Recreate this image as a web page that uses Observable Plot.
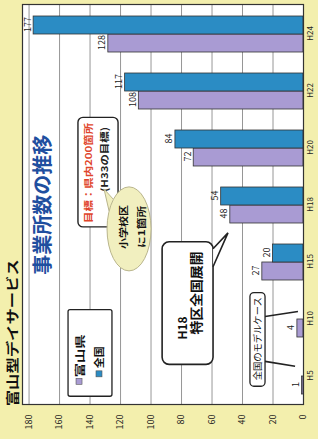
<!DOCTYPE html>
<html><head><meta charset="utf-8">
<script src="https://cdn.jsdelivr.net/npm/d3@7"></script>
<script src="https://cdn.jsdelivr.net/npm/@observablehq/plot@0.6"></script>
<style>
html,body{margin:0;padding:0;background:#f3efad;}
#wrap{position:relative;width:318px;height:439px;overflow:hidden;background:#f3efad;}
#wrap svg{position:absolute;left:0;top:0;transform-origin:0 0;transform:translate(0px,439px) rotate(-90deg);}
</style></head><body><div id="wrap"></div>
<script>
// ---- data ----
const categories = ["H5","H10","H15","H18","H20","H22","H24"];
const seriesNames = ["富山県","全国"];
const toyama  = [1, 4, 27, 48, 72, 108, 128];      // purple
const zenkoku = [null, null, 20, 54, 84, 117, 177]; // blue
const yTicks = [0,20,40,60,80,100,120,140,160,180];
const colors = ["#a99bd3", "#2b8cc4"];
const FONT = "'Noto Sans CJK JP','Noto Sans',sans-serif";

const rows = [];
categories.forEach((c, i) => {
  if (toyama[i] != null) rows.push({cat: c, series: seriesNames[0], value: toyama[i]});
  if (zenkoku[i] != null) rows.push({cat: c, series: seriesNames[1], value: zenkoku[i]});
});
const rowsP = rows.filter(d => d.series === seriesNames[0]);
const rowsB = rows.filter(d => d.series === seriesNames[1]);
const half = 18;

const plot = Plot.plot({
  width: 439, height: 318,
  marginTop: 22, marginBottom: 15, marginLeft: 34, marginRight: 5,
  style: {background: "transparent", maxWidth: "none", overflow: "visible", fontFamily: FONT, fontSize: "9px", color: "#222"},
  x: {domain: categories, paddingInner: 0.37, paddingOuter: 0.18},
  y: {domain: [0, 184.3]},
  marks: [
    Plot.frame({fill: "white", stroke: "none"}),
    Plot.ruleY(yTicks, {stroke: "#8a8a8a", strokeWidth: 0.9}),
    Plot.barY(rowsP, {x: "cat", y: "value", fill: colors[0], stroke: "#333", strokeWidth: 0.8, insetRight: half}),
    Plot.barY(rowsB, {x: "cat", y: "value", fill: colors[1], stroke: "#333", strokeWidth: 0.8, insetLeft: half}),
    Plot.text(rowsP, {x: "cat", y: "value", text: d => String(d.value), dx: -9, dy: -3, lineAnchor: "bottom", fontSize: 9, fill: "#222"}),
    Plot.text(rowsB, {x: "cat", y: "value", text: d => String(d.value), dx: 9, dy: -3, lineAnchor: "bottom", fontSize: 9, fill: "#222"}),
    Plot.frame({stroke: "#333", strokeWidth: 1.2}),
    Plot.axisX({tickSize: 0, tickPadding: 4, fontSize: 8, label: null}),
    Plot.axisY({ticks: yTicks, tickSize: 0, tickPadding: 10, fontSize: 9, label: null})
  ]
});
document.getElementById("wrap").appendChild(plot);

// ---- annotations, positioned through the plot's scales ----
const xs = plot.scale("x"), ys = plot.scale("y");
const X = i => xs.apply(categories[0]) + xs.bandwidth / 2 + i * xs.step;
const Y = v => ys.apply(v);
const svg = d3.select(plot);
const ann = svg.append("g").attr("font-family", FONT);

function txt(i, v, s, o) {
  const t = ann.append("text").attr("x", X(i)).attr("y", Y(v))
    .attr("dominant-baseline", "central")
    .attr("font-size", o.size).attr("font-weight", o.bold ? "bold" : "normal")
    .attr("fill", o.fill || "#111").attr("text-anchor", o.anchor || "start").text(s);
  if (o.len) t.attr("textLength", o.len).attr("lengthAdjust", "spacingAndGlyphs");
  return t;
}
function box(i0, i1, v0, v1, o) {
  return ann.append("rect").attr("x", X(i0)).attr("y", Y(v0))
    .attr("width", X(i1) - X(i0)).attr("height", Y(v1) - Y(v0))
    .attr("rx", o.rx || 0).attr("fill", o.fill || "white")
    .attr("stroke", o.stroke || "#222").attr("stroke-width", o.sw || 1.3);
}
function poly(pts, o) {
  return ann.append("path").attr("d", "M" + pts.map(p => X(p[0]) + "," + Y(p[1])).join("L"))
    .attr("fill", o.fill || "none").attr("stroke", o.stroke || "#222").attr("stroke-width", o.sw || 1.3);
}

// title + subtitle
txt(-0.530, 190.9, "富山型デイサービス", {size: 13, bold: true, len: 147, fill: "#111"});
txt(1.777, 171.8, "事業所数の推移", {size: 20, bold: true, len: 140, fill: "#1f4f9f"});

// legend
box(-0.355, 1.166, 154.1, 125.3, {rx: 2, sw: 1.3});
ann.append("rect").attr("x", X(-0.093) - 3).attr("y", Y(146.9) - 3).attr("width", 6).attr("height", 6).attr("fill", colors[0]).attr("stroke", "#555").attr("stroke-width", 0.6);
txt(-0.023, 146.9, seriesNames[0], {size: 10, bold: true, len: 43});
ann.append("rect").attr("x", X(0.038) - 3).attr("y", Y(133.8) - 3).attr("width", 6).attr("height", 6).attr("fill", colors[1]).attr("stroke", "#555").attr("stroke-width", 0.6);
txt(0.135, 133.8, seriesNames[1], {size: 10, bold: true, len: 22});

// goal box
box(2.616, 4.538, 147.6, 121.3, {rx: 5, sw: 1.4});
txt(2.686, 140.7, "目標：県内200箇所", {size: 9.5, bold: true, len: 100, fill: "#e0452b"});
txt(3.228, 130.5, "(H33の目標)", {size: 9.5, bold: true, len: 65, fill: "#222"});

// bubble
poly([[2.896, 127.2], [3.281, 130.5], [3.106, 124.6]], {fill: "#f1efbf", stroke: "#b9b58c", sw: 1});
ann.append("ellipse").attr("cx", X(2.581)).attr("cy", Y(114.1)).attr("rx", 42).attr("ry", 22)
  .attr("fill", "#f1efbf").attr("stroke", "#b9b58c").attr("stroke-width", 1);
txt(2.616, 117.7, "小学校区", {size: 9, bold: true, len: 44, anchor: "middle"});
txt(2.616, 105.9, "に1箇所", {size: 9, bold: true, len: 42, anchor: "middle"});

// H18 callout
box(0.204, 2.354, 92.4, 59.0, {rx: 7, sw: 1.6});
poly([[1.917, 59.0], [2.511, 49.2], [2.232, 59.0]], {fill: "white", stroke: "none"});
poly([[1.917, 59.0], [2.511, 49.2], [2.232, 59.0]], {stroke: "#222", sw: 1.6});
txt(0.641, 79.4, "H18", {size: 12, bold: true, len: 23});
txt(0.729, 70.2, "特区全国展開", {size: 13, bold: true, len: 83});

// model box
box(-0.180, 1.463, 34.8, 24.9, {rx: 4, sw: 1.3});
txt(-0.075, 29.8, "全国のモデルケース", {size: 9, len: 83});
poly([[1.043, 24.9], [1.131, 3.3]], {sw: 1.6});
poly([[0.257, 24.9], [0.170, 5.2]], {sw: 1.6});
</script></body></html>
